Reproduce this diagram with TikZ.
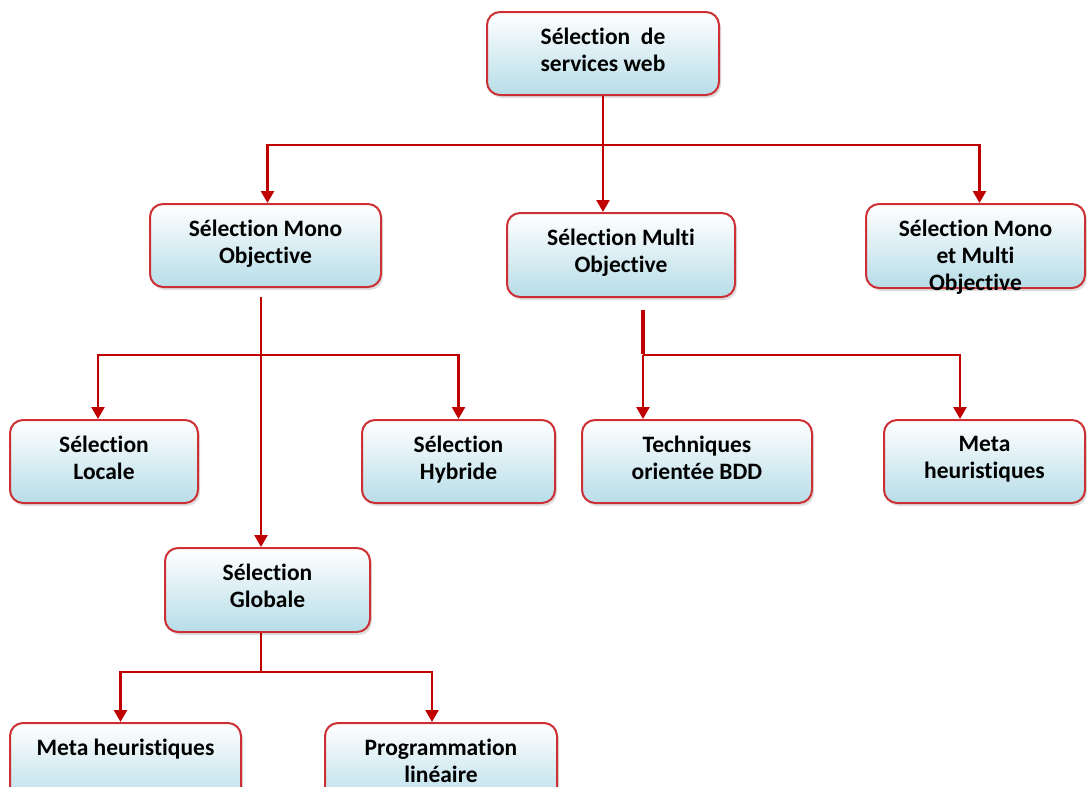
\documentclass[tikz,border=0pt]{standalone}
\usepackage{fontspec}
\setmainfont{Carlito}[Ligatures=NoCommon]
\usetikzlibrary{arrows.meta,shadows}

\definecolor{boxred}{RGB}{204,48,52}
\definecolor{linkred}{RGB}{192,0,0}
\definecolor{boxblue}{RGB}{183,221,232}

\tikzset{
  box/.style={draw=boxred, line width=2pt, rounded corners=13pt,
    top color=white, bottom color=boxblue,
    drop shadow={shadow xshift=2pt, shadow yshift=-3pt, opacity=0.25}},
  lbl/.style={anchor=north, yshift=-15pt, align=center, inner sep=2pt,
    font=\fontsize{23.5}{27}\selectfont\bfseries},
  link/.style={draw=linkred, line width=2.5pt},
  arrow/.style={link, -{Triangle[width=13pt,length=12pt]}}
}

\begin{document}
\begin{tikzpicture}[x=1pt, y=-1pt]
	\useasboundingbox (0,0) rectangle (1087,787);

	% Draw the boxes
	\node[box, minimum width=232, minimum height=83, label={[lbl]north:{Sélection~ de\\services web}}] (top) at (603,53.5) {};
	\node[box, minimum width=231, minimum height=83, label={[lbl]north:{Sélection Mono\\Objective}}] (mono) at (265.5,245.5) {};
	\node[box, minimum width=228, minimum height=84, label={[lbl]north:{Sélection Multi\\Objective}}] (multi) at (621,255) {};
	\node[box, minimum width=219, minimum height=84, label={[lbl]north:{Sélection Mono\\et Multi\\Objective}}] (both) at (975.5,246) {};

	\node[box, minimum width=188, minimum height=83, label={[lbl]north:{Sélection\\Locale}}] (locale) at (104,461.5) {};
	\node[box, minimum width=193, minimum height=83, label={[lbl]north:{Sélection\\Hybride}}] (hybride) at (458.5,461.5) {};
	\node[box, minimum width=230, minimum height=83, label={[lbl]north:{Techniques\\orientée BDD}}] (techniques) at (697,461.5) {};
	\node[box, minimum width=201, minimum height=83, label={[lbl]north:{Meta\\heuristiques}}] (metaR) at (984.5,461.5) {};

	\node[box, minimum width=205, minimum height=84, label={[lbl]north:{Sélection\\Globale}}] (globale) at (267.5,590) {};
	\node[box, minimum width=231, minimum height=83, label={[lbl]north:{Meta heuristiques}}] (metaB) at (125.5,764.5) {};
	\node[box, minimum width=232, minimum height=83, label={[lbl]north:{Programmation\\linéaire}}] (prog) at (441,764.5) {};

	% Then the junctions
	\coordinate (j1) at (603,145);
	\coordinate (m0) at (261,297);
	\coordinate (m1) at (261,355);
	\coordinate (t0) at (643,310);
	\coordinate (t1) at (643,355);
	\coordinate (t2) at (960,355);
	\coordinate (g1) at (261,672);

	% Now the connectors
	\draw[link] (top.south) -- (j1);
	\draw[arrow] (j1) -| ([xshift=2]mono.north);
	\draw[arrow] (j1) -- (j1 |- multi.north);
	\draw[arrow] (j1) -| ([xshift=4]both.north);

	\draw[arrow] (m0) -- (m0 |- globale.north);
	\draw[arrow] (m1) -| ([xshift=-6]locale.north);
	\draw[arrow] (m1) -| (hybride.north);

	\draw[link, line width=4pt] (t0) -- ([yshift=1]t1);
	\draw[arrow] (t1) -- (t1 |- techniques.north);
	\draw[arrow] (t1) -- (t2) -- (t2 |- metaR.north);

	\draw[link] (g1 |- globale.south) -- (g1);
	\draw[arrow] (g1) -| ([xshift=-5]metaB.north);
	\draw[arrow] (g1) -| ([xshift=-9]prog.north);
\end{tikzpicture}
\end{document}
